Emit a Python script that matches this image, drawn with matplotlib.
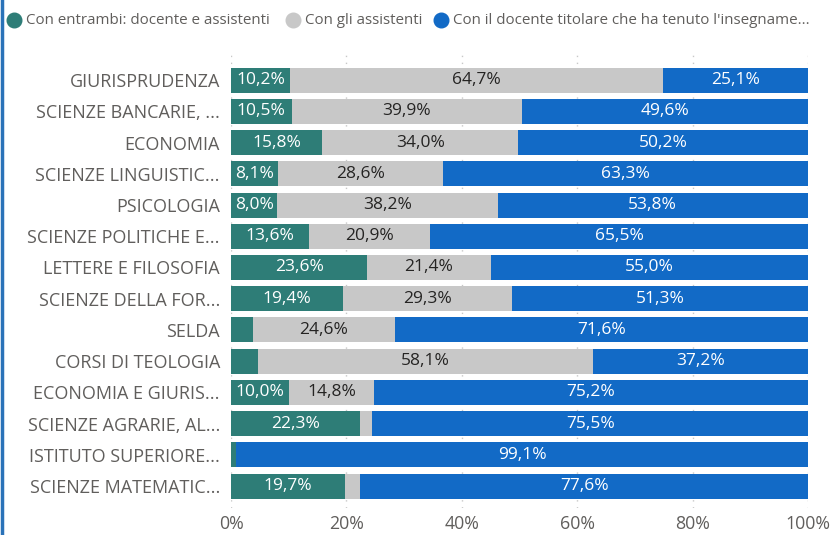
import numpy as np
import matplotlib.pyplot as plt
from matplotlib.lines import Line2D

plt.rcParams['font.family'] = ['Open Sans', 'DejaVu Sans']

categories = [
    "GIURISPRUDENZA", "SCIENZE BANCARIE, ...", "ECONOMIA", "SCIENZE LINGUISTIC...",
    "PSICOLOGIA", "SCIENZE POLITICHE E...", "LETTERE E FILOSOFIA", "SCIENZE DELLA FOR...",
    "SELDA", "CORSI DI TEOLOGIA", "ECONOMIA E GIURIS...", "SCIENZE AGRARIE, AL...",
    "ISTITUTO SUPERIORE...", "SCIENZE MATEMATIC...",
]
entrambi = [10.2, 10.5, 15.8, 8.1, 8.0, 13.6, 23.6, 19.4, 3.8, 4.7, 10.0, 22.3, 0.9, 19.7]
assistenti = [64.7, 39.9, 34.0, 28.6, 38.2, 20.9, 21.4, 29.3, 24.6, 58.1, 14.8, 2.2, 0.0, 2.7]
docente = [25.1, 49.6, 50.2, 63.3, 53.8, 65.5, 55.0, 51.3, 71.6, 37.2, 75.2, 75.5, 99.1, 77.6]

series = [
    ("Con entrambi: docente e assistenti", entrambi, "#2e7d77", "white"),
    ("Con gli assistenti", assistenti, "#c8c8c8", "#252423"),
    ("Con il docente titolare che ha tenuto l'insegname...", docente, "#126ac6", "white"),
]
legend_x = [14, 293, 441]  # pixel x of legend markers

W, H = 832, 535
fig = plt.figure(figsize=(W / 100, H / 100), dpi=100)
ax = fig.add_axes([231 / W, 0.0505, (808 - 231) / W, 0.8465])

y = np.arange(len(categories))
left = np.zeros(len(categories))
for name, vals, color, tcolor in series:
    vals = np.array(vals)
    ax.barh(y, vals, left=left, height=0.8, color=color, zorder=2)
    for yi, l, v in zip(y, left, vals):
        if v >= 5:
            ax.text(l + v / 2, yi, f"{v:.1f}%".replace(".", ","), ha="center",
                    va="center", color=tcolor, fontsize=12.5, zorder=3)
    left += vals

ax.set_xlim(0, 100)
ax.set_ylim(13.7, -0.8)
ax.set_yticks(y)
ax.set_yticklabels(categories, fontsize=13, color="#605e5c")
ax.set_xticks([0, 20, 40, 60, 80, 100])
ax.set_xticklabels(["0%", "20%", "40%", "60%", "80%", "100%"], fontsize=12.8, color="#605e5c")
ax.tick_params(axis="y", length=0, pad=8)
ax.tick_params(axis="x", length=0, pad=5)
ax.grid(axis="x", color="#c8c8c8", linestyle=(0, (1, 4)), linewidth=1, zorder=0)
for s in ax.spines.values():
    s.set_visible(False)

# legend drawn by hand to keep Power BI spacing
ly = 1 - 20 / H
for (name, _, color, _), px in zip(series, legend_x):
    fig.add_artist(Line2D([px / W], [ly], marker="o", markersize=10.5, color=color,
                          linestyle="", transform=fig.transFigure))
    fig.text((px + 12) / W, ly, name, ha="left", va="center", fontsize=10.9,
             color="#605e5c")

fig.add_artist(Line2D([0.002, 0.002], [0, 1], transform=fig.transFigure,
                      color="#2a72b8", linewidth=2.5))

fig.savefig("out.png", dpi=100)
